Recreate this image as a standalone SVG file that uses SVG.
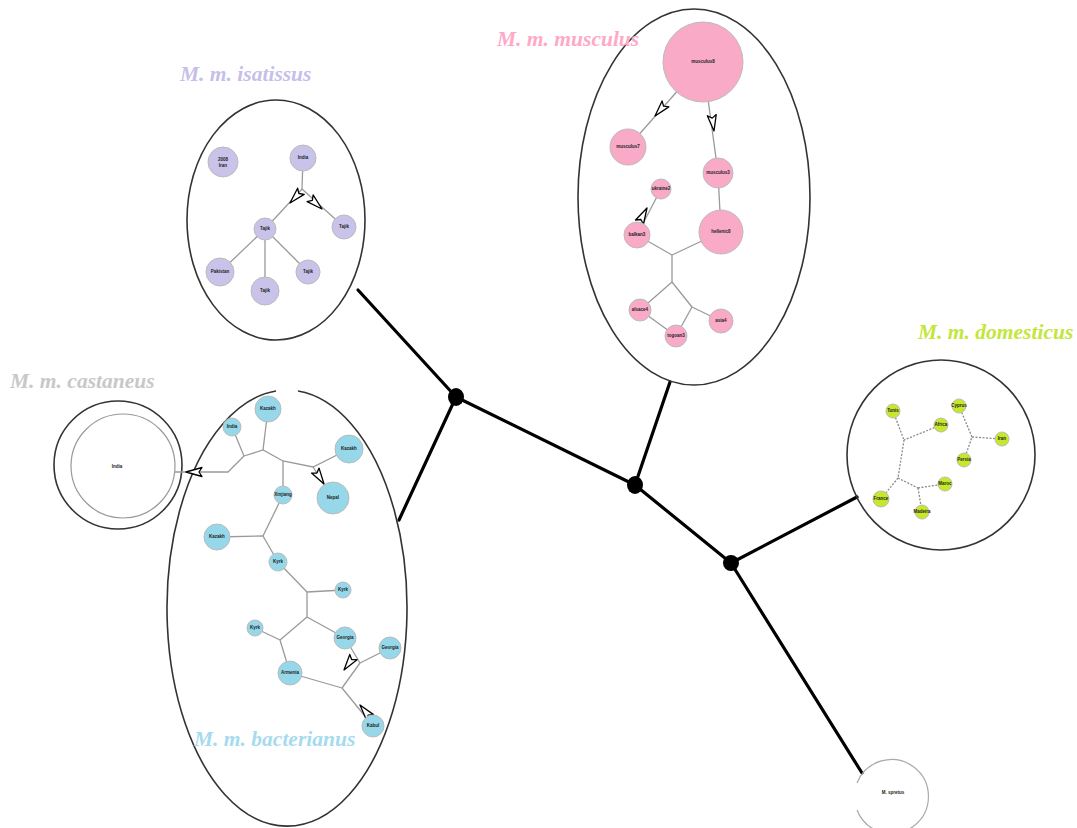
<svg xmlns="http://www.w3.org/2000/svg" width="1077" height="828" viewBox="0 0 1077 828">
<style>
.bg{fill:#fff}
.main{stroke:#000;stroke-width:3.2;fill:none;stroke-linecap:round}
.hub{fill:#000}
.clus{fill:none;stroke:#333;stroke-width:1.6}
.e{stroke:#9a9a9a;stroke-width:1.3;fill:none}
.ed{stroke:#8a8a8a;stroke-width:1.3;fill:none;stroke-dasharray:2 1.5}
.nis{fill:#c9c3ea;stroke:#bbb;stroke-width:1}
.nmu{fill:#f9aac7;stroke:#bbb;stroke-width:1}
.nba{fill:#96d8e9;stroke:#bbb;stroke-width:1}
.ndo{fill:#c6e82a;stroke:#bbb;stroke-width:1}
.t{font-family:"Liberation Sans",Arial,sans-serif;font-size:4.5px;font-weight:bold;fill:#222;text-anchor:middle;dominant-baseline:middle}
.lab{font-family:"Liberation Serif","Times New Roman",serif;font-style:italic;font-weight:bold;font-size:21.5px}
</style>
<defs>
<path id="ah" d="M0,0 L-16,-4.5 L-13,0 L-16,4.5 Z" fill="#fff" stroke="#000" stroke-width="1.3" stroke-linejoin="round"/>
</defs>
<rect class="bg" x="0" y="0" width="1077" height="828"/>

<g id="connectors">
<line class="main" x1="456" y1="397" x2="358" y2="290"/>
<line class="main" x1="456" y1="397" x2="399" y2="520"/>
<line class="main" x1="456" y1="397" x2="635" y2="485"/>
<line class="main" x1="635" y1="485" x2="670" y2="382"/>
<line class="main" x1="635" y1="485" x2="731" y2="563"/>
<line class="main" x1="731" y1="563" x2="857" y2="497"/>
<line class="main" x1="731" y1="563" x2="862" y2="773"/>
</g>
<g id="hubs">
<ellipse class="hub" cx="456" cy="397" rx="8" ry="9"/>
<ellipse class="hub" cx="635" cy="485" rx="8" ry="9"/>
<ellipse class="hub" cx="731" cy="563" rx="8" ry="8"/>
</g>

<g id="isatissus">
<ellipse class="clus" cx="276" cy="220" rx="89" ry="120"/>
<text class="lab" x="180" y="81" fill="#c6bfea">M. m. isatissus</text>
<g class="edges">
<line class="e" x1="303" y1="158" x2="302" y2="189"/>
<line class="e" x1="302" y1="189" x2="265" y2="229"/>
<line class="e" x1="302" y1="189" x2="344" y2="227"/>
<line class="e" x1="265" y1="229" x2="220" y2="272"/>
<line class="e" x1="265" y1="229" x2="265" y2="291"/>
<line class="e" x1="265" y1="229" x2="308" y2="272"/>
<use href="#ah" transform="translate(290,203) rotate(133)"/>
<use href="#ah" transform="translate(322,209) rotate(42)"/>
</g>
<circle class="nis" cx="223" cy="162" r="15"/><text class="t" x="223" y="160">2008</text><text class="t" x="223" y="166">Iran</text>
<circle class="nis" cx="303" cy="158" r="13"/><text class="t" x="303" y="158">India</text>
<circle class="nis" cx="265" cy="229" r="11"/><text class="t" x="265" y="229">Tajik</text>
<circle class="nis" cx="344" cy="227" r="12"/><text class="t" x="344" y="227">Tajik</text>
<circle class="nis" cx="220" cy="272" r="14"/><text class="t" x="220" y="272">Pakistan</text>
<circle class="nis" cx="265" cy="291" r="14"/><text class="t" x="265" y="291">Tajik</text>
<circle class="nis" cx="308" cy="272" r="12"/><text class="t" x="308" y="272">Tajik</text>
</g>

<g id="musculus">
<ellipse class="clus" cx="694" cy="197" rx="116" ry="188"/>
<text class="lab" x="497" y="46" fill="#ffa9c8">M. m. musculus</text>
<g class="edges">
<line class="e" x1="703" y1="62" x2="628" y2="147"/>
<line class="e" x1="703" y1="62" x2="718" y2="173"/>
<line class="e" x1="718" y1="173" x2="721" y2="232"/>
<line class="e" x1="661" y1="189" x2="637" y2="235"/>
<line class="e" x1="637" y1="235" x2="672" y2="255"/>
<line class="e" x1="721" y1="232" x2="672" y2="255"/>
<line class="e" x1="672" y1="255" x2="672" y2="282"/>
<line class="e" x1="672" y1="282" x2="640" y2="310"/>
<line class="e" x1="672" y1="282" x2="692" y2="307"/>
<line class="e" x1="692" y1="307" x2="676" y2="336"/>
<line class="e" x1="692" y1="307" x2="721" y2="321"/>
<line class="e" x1="640" y1="310" x2="676" y2="336"/>
<use href="#ah" transform="translate(655,116) rotate(131)"/>
<use href="#ah" transform="translate(714,131) rotate(82)"/>
<use href="#ah" transform="translate(647,208) rotate(-62)"/>
</g>
<circle class="nmu" cx="703" cy="62" r="40"/><text class="t" x="703" y="62">musculus8</text>
<circle class="nmu" cx="628" cy="147" r="18"/><text class="t" x="628" y="147">musculus7</text>
<circle class="nmu" cx="718" cy="173" r="15"/><text class="t" x="718" y="173">musculus3</text>
<circle class="nmu" cx="661" cy="189" r="10"/><text class="t" x="661" y="189">ukraine2</text>
<circle class="nmu" cx="637" cy="235" r="13"/><text class="t" x="637" y="235">balkan3</text>
<circle class="nmu" cx="721" cy="232" r="22"/><text class="t" x="721" y="232">hellenic8</text>
<circle class="nmu" cx="640" cy="310" r="11"/><text class="t" x="640" y="310">alsace4</text>
<circle class="nmu" cx="676" cy="336" r="11"/><text class="t" x="676" y="336">togoan3</text>
<circle class="nmu" cx="721" cy="321" r="12"/><text class="t" x="721" y="321">asia4</text>
</g>

<g id="domesticus">
<ellipse class="clus" cx="941" cy="455" rx="94" ry="95"/>
<text class="lab" x="918" y="339" fill="#c3e63a">M. m. domesticus</text>
<g class="edges">
<line class="ed" x1="893" y1="411" x2="904" y2="440"/>
<line class="ed" x1="941" y1="425" x2="904" y2="440"/>
<line class="ed" x1="904" y1="440" x2="898" y2="478"/>
<line class="ed" x1="898" y1="478" x2="881" y2="499"/>
<line class="ed" x1="898" y1="478" x2="918" y2="488"/>
<line class="ed" x1="918" y1="488" x2="945" y2="484"/>
<line class="ed" x1="918" y1="488" x2="922" y2="512"/>
<line class="ed" x1="959" y1="406" x2="972" y2="437"/>
<line class="ed" x1="1002" y1="439" x2="972" y2="437"/>
<line class="ed" x1="964" y1="460" x2="972" y2="437"/>
</g>
<circle class="ndo" cx="893" cy="411" r="7"/><text class="t" x="893" y="411">Tunis</text>
<circle class="ndo" cx="941" cy="425" r="7"/><text class="t" x="941" y="425">Africa</text>
<circle class="ndo" cx="881" cy="499" r="8"/><text class="t" x="881" y="499">France</text>
<circle class="ndo" cx="945" cy="484" r="7"/><text class="t" x="945" y="484">Maroc</text>
<circle class="ndo" cx="922" cy="512" r="7"/><text class="t" x="922" y="512">Madeira</text>
<circle class="ndo" cx="959" cy="406" r="7"/><text class="t" x="959" y="406">Cyprus</text>
<circle class="ndo" cx="1002" cy="439" r="7"/><text class="t" x="1002" y="439">Iran</text>
<circle class="ndo" cx="964" cy="460" r="7"/><text class="t" x="964" y="460">Persia</text>
</g>

<g id="castaneus">
<circle class="clus" cx="118" cy="465" r="64"/>
<circle cx="123" cy="466" r="52" fill="none" stroke="#999" stroke-width="1.2"/>
<text class="lab" x="10" y="388" fill="#c8c8c8">M. m. castaneus</text>
<text class="t" x="117" y="467" font-weight="normal">India</text>
</g>

<g id="bacterianus">
<path class="clus" d="M298,391 A120,218 0 1 1 276,391"/>
<text class="lab" x="194" y="746" fill="#a6dbef">M. m. bacterianus</text>
<g class="edges">
<line class="e" x1="232" y1="427" x2="244" y2="456"/>
<line class="e" x1="268" y1="409" x2="263" y2="450"/>
<polyline class="e" points="244,456 263,450 283,461 313,467 349,449"/>
<line class="e" x1="313" y1="467" x2="333" y2="498"/>
<polyline class="e" points="244,456 228,472 175,472"/>
<line class="e" x1="283" y1="461" x2="283" y2="495"/>
<line class="e" x1="283" y1="495" x2="263" y2="536"/>
<line class="e" x1="217" y1="537" x2="263" y2="536"/>
<line class="e" x1="263" y1="536" x2="278" y2="562"/>
<line class="e" x1="278" y1="562" x2="307" y2="592"/>
<line class="e" x1="307" y1="592" x2="343" y2="590"/>
<line class="e" x1="307" y1="592" x2="307" y2="617"/>
<line class="e" x1="307" y1="617" x2="280" y2="640"/>
<line class="e" x1="280" y1="640" x2="255" y2="628"/>
<line class="e" x1="280" y1="640" x2="290" y2="673"/>
<line class="e" x1="307" y1="617" x2="345" y2="638"/>
<line class="e" x1="345" y1="638" x2="360" y2="663"/>
<line class="e" x1="390" y1="648" x2="360" y2="663"/>
<line class="e" x1="360" y1="663" x2="342" y2="688"/>
<line class="e" x1="290" y1="673" x2="342" y2="688"/>
<line class="e" x1="342" y1="688" x2="373" y2="726"/>
<use href="#ah" transform="translate(186,472) rotate(180)"/>
<use href="#ah" transform="translate(324,484) rotate(57)"/>
<use href="#ah" transform="translate(344,670) rotate(126)"/>
<use href="#ah" transform="translate(360,705) rotate(-129)"/>
</g>
<circle class="nba" cx="232" cy="427" r="9"/><text class="t" x="232" y="427">India</text>
<circle class="nba" cx="268" cy="409" r="13"/><text class="t" x="268" y="409">Kazakh</text>
<circle class="nba" cx="349" cy="449" r="14"/><text class="t" x="349" y="449">Kazakh</text>
<circle class="nba" cx="333" cy="498" r="16"/><text class="t" x="333" y="498">Nepal</text>
<circle class="nba" cx="283" cy="495" r="9"/><text class="t" x="283" y="495">Xinjiang</text>
<circle class="nba" cx="217" cy="537" r="13"/><text class="t" x="217" y="537">Kazakh</text>
<circle class="nba" cx="278" cy="562" r="9"/><text class="t" x="278" y="562">Kyrk</text>
<circle class="nba" cx="343" cy="590" r="8"/><text class="t" x="343" y="590">Kyrk</text>
<circle class="nba" cx="255" cy="628" r="8"/><text class="t" x="255" y="628">Kyrk</text>
<circle class="nba" cx="345" cy="638" r="11"/><text class="t" x="345" y="638">Georgia</text>
<circle class="nba" cx="390" cy="648" r="11"/><text class="t" x="390" y="648">Georgia</text>
<circle class="nba" cx="290" cy="673" r="12"/><text class="t" x="290" y="673">Armenia</text>
<circle class="nba" cx="373" cy="726" r="11"/><text class="t" x="373" y="726">Kabul</text>
</g>

<g id="spretus">
<path d="M857,783 A37,37 0 1 1 857,810" fill="none" stroke="#aaa" stroke-width="1.2"/>
<text class="t" x="893" y="793" font-weight="normal">M. spretus</text>
</g>
</svg>
